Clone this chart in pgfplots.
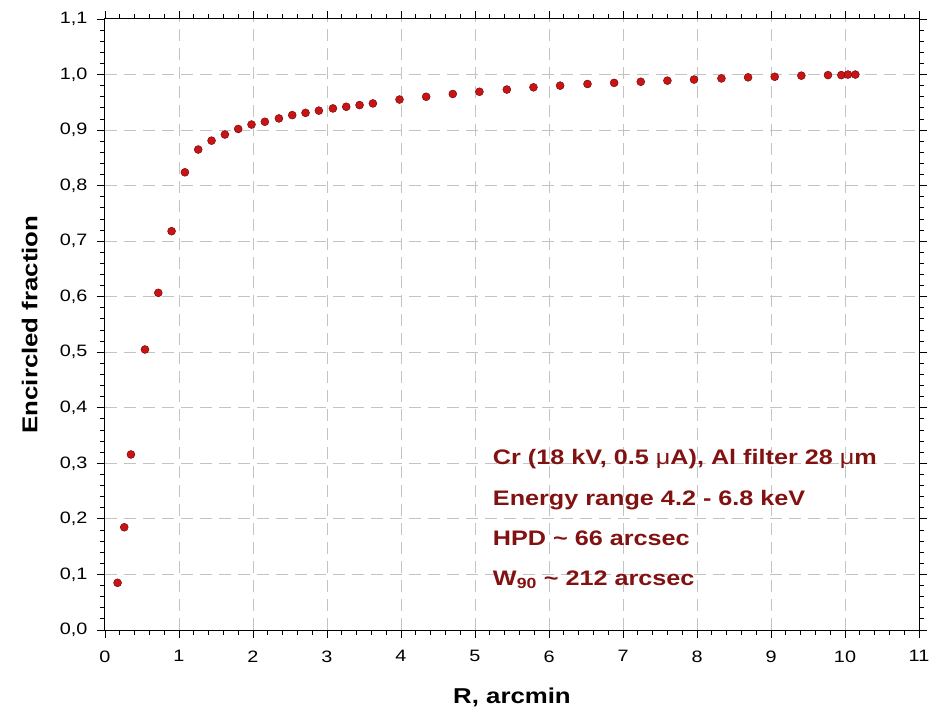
\documentclass[border=0pt]{standalone}
\usepackage{pgfplots}
\pgfplotsset{compat=1.18}
\usepackage{fontspec}
\setmainfont{Liberation Sans}[FakeStretch=1.2]
\definecolor{txtred}{RGB}{130,18,18}
\definecolor{mkred}{RGB}{200,20,20}
\definecolor{mkedge}{RGB}{110,0,0}
\definecolor{gridgray}{RGB}{195,195,195}
\begin{document}
\begin{tikzpicture}
\begin{axis}[
  scale only axis,
  width=814pt, height=611pt,
  xmin=0, xmax=11, ymin=0, ymax=1.1,
  xtick={0,1,...,11},
  ytick={0,0.1,...,1.1},
  minor x tick num=4,
  minor y tick num=4,
  tick align=outside,
  major tick length=8pt,
  minor tick length=5pt,
  axis line style={black, line width=1pt},
  every tick/.style={black, line width=0.9pt},
  grid=major,
  major grid style={gridgray, line width=1pt, dash pattern=on 12pt off 7pt},
  /pgf/number format/assume math mode=true,
  xticklabel style={font=\fontsize{16.5}{18}\selectfont, yshift=-9pt},
  yticklabel style={font=\fontsize{16.5}{18}\selectfont, xshift=-6pt,
     /pgf/number format/.cd, use comma, fixed, fixed zerofill, precision=1},
  xticklabel style={/pgf/number format/.cd, fixed, precision=0},
  xlabel={\textbf{R, arcmin}},
  ylabel={\textbf{Encircled fraction}},
  xlabel style={font=\fontsize{21.5}{24}\selectfont, at={(axis description cs:0.5,0)}, yshift=-54pt},
  ylabel style={font=\fontsize{21.5}{24}\selectfont, at={(axis description cs:0,0.5)}, yshift=64pt},
  clip=false,
]
\addplot[only marks, mark=*, mark size=4pt,
  mark options={fill=mkred, draw=mkedge, line width=0.4pt}] coordinates {
(0.17,0.085) (0.26,0.185) (0.35,0.316) (0.54,0.505) (0.72,0.607)
(0.90,0.718) (1.08,0.824) (1.26,0.865) (1.44,0.881) (1.62,0.892)
(1.80,0.902) (1.98,0.910) (2.16,0.915) (2.35,0.921) (2.53,0.927)
(2.71,0.931) (2.89,0.935) (3.08,0.939) (3.26,0.942) (3.44,0.945)
(3.62,0.948) (3.98,0.955) (4.34,0.960) (4.70,0.965) (5.06,0.969)
(5.43,0.973) (5.79,0.977) (6.15,0.980) (6.52,0.983) (6.88,0.985)
(7.24,0.987) (7.60,0.989) (7.96,0.991) (8.33,0.993) (8.69,0.995)
(9.05,0.996) (9.41,0.998) (9.77,0.999) (9.95,0.999) (10.04,1.0)
(10.14,1.0)
};
\begin{scope}[every node/.style={anchor=base west, text=txtred, font=\fontsize{21}{24}\selectfont\bfseries, inner sep=0pt}]
\node at (axis cs:5.24,0.2973) {Cr (18 kV, 0.5 {\mdseries μ}A), Al filter 28 {\mdseries μ}m};
\node at (axis cs:5.24,0.225) {Energy range 4.2 - 6.8 keV};
\node at (axis cs:5.24,0.153) {HPD \textasciitilde{} 66 arcsec};
\node at (axis cs:5.24,0.081) {W\textsubscript{90} \textasciitilde{} 212 arcsec};
\end{scope}
\coordinate (ll) at (rel axis cs:0,0);
\coordinate (ur) at (rel axis cs:1,1);
\end{axis}
\pgfresetboundingbox
\path ([shift={(-105pt,-83pt)}]ll) rectangle ([shift={(25pt,19pt)}]ur);
\end{tikzpicture}
\end{document}
